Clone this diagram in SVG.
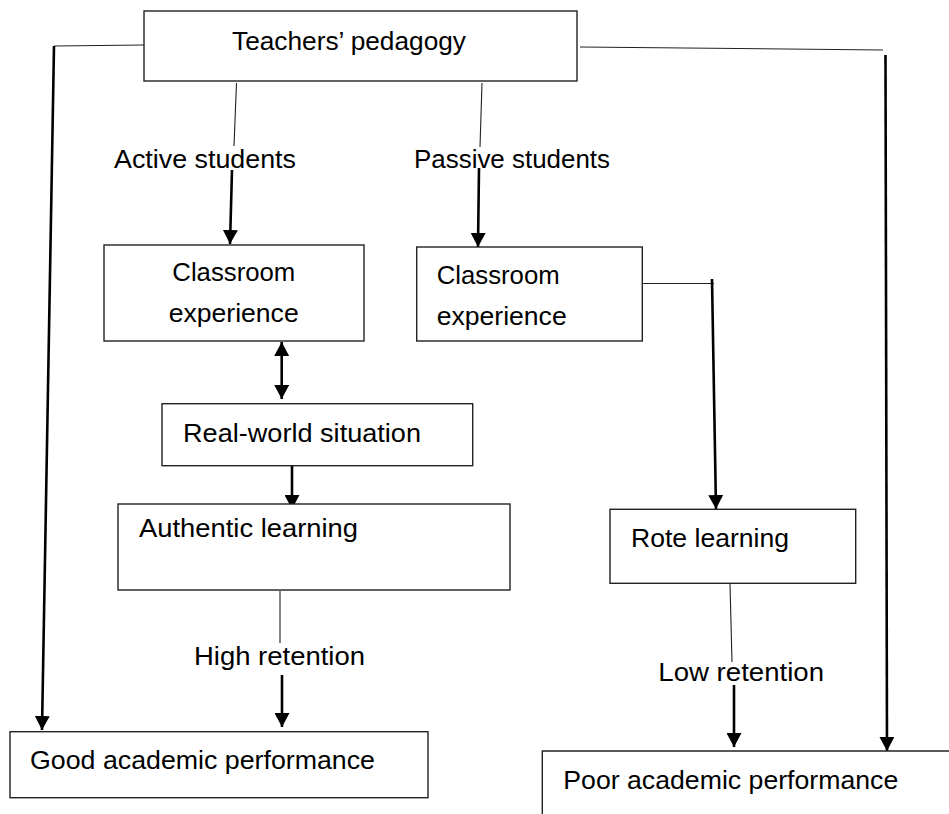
<svg xmlns="http://www.w3.org/2000/svg" width="949" height="814" viewBox="0 0 949 814">
<defs>
<marker id="ah" viewBox="0 0 14 15" refX="14" refY="7.5" markerWidth="14" markerHeight="15" markerUnits="userSpaceOnUse" orient="auto-start-reverse">
<path d="M0,0 L14,7.5 L0,15 z" fill="#000"/>
</marker>
<style>
.box{fill:#fff;stroke:#222;stroke-width:1.4}
.t{font-family:"Liberation Sans",Arial,sans-serif;font-size:26px;fill:#000}
.thin{stroke:#222;stroke-width:1.1;fill:none}
.thick{stroke:#000;stroke-width:2.6;fill:none}
</style>
</defs>
<rect width="949" height="814" fill="#fff"/>
<g id="connectors">
<polyline class="thin" points="144,45 54,46"/>
<line class="thick" x1="54" y1="46" x2="42" y2="730" marker-end="url(#ah)"/>
<polyline class="thin" points="580,47 883,50"/>
<line class="thick" x1="885.5" y1="55" x2="887" y2="751" marker-end="url(#ah)"/>
<line class="thin" x1="236.5" y1="83" x2="234" y2="146"/>
<line class="thick" x1="232" y1="170" x2="230" y2="244" marker-end="url(#ah)"/>
<line class="thin" x1="482" y1="83" x2="480" y2="147"/>
<line class="thick" x1="479" y1="168" x2="478" y2="247" marker-end="url(#ah)"/>
<line class="thin" x1="642" y1="283.5" x2="714" y2="283.5"/>
<line class="thick" x1="712" y1="279" x2="716" y2="509" marker-end="url(#ah)"/>
<line class="thick" x1="281.7" y1="342" x2="281.7" y2="399" marker-start="url(#ah)" marker-end="url(#ah)"/>
<line class="thick" x1="292" y1="466" x2="292" y2="509" marker-end="url(#ah)"/>
<line class="thin" x1="280" y1="591" x2="280" y2="643"/>
<line class="thick" x1="282" y1="675" x2="282" y2="727" marker-end="url(#ah)"/>
<line class="thin" x1="730" y1="584" x2="732" y2="662"/>
<line class="thick" x1="734" y1="685" x2="734" y2="747" marker-end="url(#ah)"/>
</g>
<g id="teachers">
<rect class="box" x="144" y="11" width="433" height="70"/>
<text class="t" x="232" y="50" textLength="234" lengthAdjust="spacingAndGlyphs">Teachers’ pedagogy</text>
</g>
<g id="label-active">
<text class="t" x="114" y="168" textLength="182" lengthAdjust="spacingAndGlyphs">Active students</text>
</g>
<g id="label-passive">
<text class="t" x="414" y="168" textLength="196" lengthAdjust="spacingAndGlyphs">Passive students</text>
</g>
<g id="classroom1">
<rect class="box" x="104" y="245" width="260" height="96"/>
<text class="t" x="172.3" y="281" textLength="123" lengthAdjust="spacingAndGlyphs">Classroom</text>
<text class="t" x="168.7" y="322" textLength="130" lengthAdjust="spacingAndGlyphs">experience</text>
</g>
<g id="classroom2">
<rect class="box" x="416.7" y="247" width="225.6" height="94"/>
<text class="t" x="436.7" y="284" textLength="123" lengthAdjust="spacingAndGlyphs">Classroom</text>
<text class="t" x="436.7" y="325" textLength="130" lengthAdjust="spacingAndGlyphs">experience</text>
</g>
<g id="realworld">
<rect class="box" x="162" y="403.7" width="310.7" height="62"/>
<text class="t" x="183" y="441.7" textLength="238" lengthAdjust="spacingAndGlyphs">Real-world situation</text>
</g>
<g id="authentic">
<rect class="box" x="118" y="504" width="392" height="86"/>
<text class="t" x="139" y="537" textLength="219" lengthAdjust="spacingAndGlyphs">Authentic learning</text>
</g>
<g id="label-high">
<text class="t" x="194" y="665" textLength="171" lengthAdjust="spacingAndGlyphs">High retention</text>
</g>
<g id="good">
<rect class="box" x="10" y="731.7" width="418" height="66"/>
<text class="t" x="30" y="769.3" textLength="345" lengthAdjust="spacingAndGlyphs">Good academic performance</text>
</g>
<g id="rote">
<rect class="box" x="610" y="509.3" width="245.7" height="74"/>
<text class="t" x="631" y="547.3" textLength="158" lengthAdjust="spacingAndGlyphs">Rote learning</text>
</g>
<g id="label-low">
<text class="t" x="658.3" y="680.7" textLength="165.7" lengthAdjust="spacingAndGlyphs">Low retention</text>
</g>
<g id="poor">
<path class="box" d="M542.3,820 L542.3,751 L955,751" style="fill:none"/>
<text class="t" x="563.3" y="789.3" textLength="335" lengthAdjust="spacingAndGlyphs">Poor academic performance</text>
</g>
</svg>
